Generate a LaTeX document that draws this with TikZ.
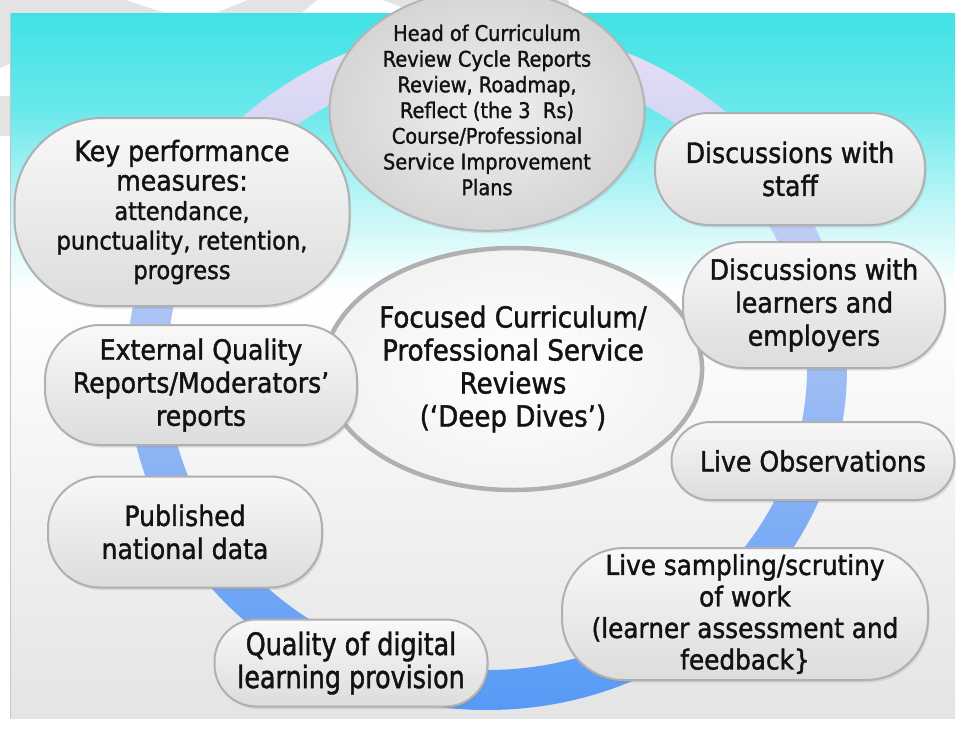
\documentclass[tikz,border=0pt]{standalone}
\usepackage{fontspec}
\setmainfont{DejaVu Sans}[FakeStretch=0.9, FakeBold=1.4]
\newfontfamily\narrowsans{DejaVu Sans}[FakeStretch=0.82, FakeBold=1.4]
\usetikzlibrary{shapes.geometric,shadows}

\definecolor{slidecyan}{RGB}{64,226,230}
\definecolor{ringtop}{RGB}{234,224,244}
\definecolor{ringmid}{RGB}{146,190,242}
\definecolor{ringbot}{RGB}{86,154,246}
\definecolor{inkblack}{RGB}{18,18,18}

\begin{document}
\begin{tikzpicture}[
            x=1pt, y=-1pt,
            bubble/.style={
                rectangle, rounded corners=#1, draw=gray!62, line width=2pt,
                top color=gray!5, bottom color=gray!27, text=inkblack,
                align=center, inner sep=0pt,
                drop shadow={shadow xshift=1.5pt, shadow yshift=-2.5pt, opacity=0.2}
            },
            bubble/.default=50pt,
            txt/.style={font=\fontsize{28}{33}\selectfont}
        ]
            \useasboundingbox (0,0) rectangle (962,729);
            % faint marks in the margin
            \fill[gray!22] (0,0) -- (126,0) -- (165,13) -- (10,13) -- (10,64) -- (0,68) -- cycle;
            \fill[gray!22] (0,96) rectangle (10,136);
            \fill[gray!22] (248,0) -- (317,0) -- (302,13) -- (215,13) -- cycle;
            \fill[gray!22] (382,0) -- (458,0) -- (492,13) -- (418,13) -- cycle;
            \fill[gray!22] (527,0) -- (568,0) to[out=-60,in=60] (566,13) -- (548,13) -- cycle;

            % slide background
            \shade[top color=slidecyan, bottom color=slidecyan!78!white] (10,13) rectangle (955,111);
            \shade[top color=slidecyan!78!white, bottom color=slidecyan!35!white] (10,110) rectangle (955,201);
            \shade[top color=slidecyan!35!white, bottom color=white] (10,200) rectangle (955,291);
            \shade[top color=white, bottom color=gray!21] (10,290) rectangle (955,718);
            \draw[gray!45, line width=0.8pt] (10,13) -- (10,718);

            % ring behind the bubbles
            \coordinate (hub) at (487,368);
            \shade[top color=ringtop, middle color=ringmid, bottom color=ringbot, even odd rule]
                (hub) ellipse [x radius=360pt, y radius=342pt]
                (hub) ellipse [x radius=320pt, y radius=302pt];

            \node[ellipse, draw=gray!58, line width=2pt, inner color=gray!12, outer color=gray!33,
                  minimum width=315pt, minimum height=190pt, inner sep=0pt, align=center,
                  text=inkblack, font=\fontsize{21.5}{25.7}\selectfont,
                  drop shadow={shadow xshift=1.5pt, shadow yshift=-2.5pt, opacity=0.2}] (head) at (487,110)
                {Head of Curriculum\\Review Cycle Reports\\Review, Roadmap,\\Reflect (the 3\ \ Rs)\\Course/Professional\\Service Improvement\\Plans};

            \node[ellipse, draw=gray!62, line width=4.5pt, inner color=white, outer color=gray!10,
                  minimum width=302pt, minimum height=242pt, inner sep=0pt, align=center,
                  text=inkblack, font=\fontsize{29}{33}\selectfont] (deep) at (513,369)
                {Focused Curriculum/\\Professional Service\\Reviews\\(‘Deep Dives’)};

            \node[bubble=88pt, minimum width=335pt, minimum height=188pt,
                  font=\fontsize{25}{29.5}\selectfont] (kpm) at (182,212)
                {{\fontsize{28}{33}\selectfont Key performance}\\{\fontsize{28}{33}\selectfont measures:}\\attendance,\\punctuality, retention,\\progress};
            \node[bubble=55pt, txt, minimum width=312pt, minimum height=120pt] (extq) at (201,385)
                {External Quality\\Reports/Moderators’\\reports};
            \node[bubble=52pt, txt, minimum width=274pt, minimum height=111pt] (natdata) at (185,532)
                {Published\\national data};
            \node[bubble=42pt, minimum width=273pt, minimum height=87pt,
                  font=\narrowsans\fontsize{31}{33}\selectfont] (digital) at (351,663)
                {Quality of digital\\learning provision};
            \node[bubble=62pt, minimum width=366pt, minimum height=132pt,
                  font=\fontsize{27.5}{31.5}\selectfont] (sampling) at (745,614)
                {Live sampling/scrutiny\\of work\\(learner assessment and\\feedback\}};
            \node[bubble=39pt, txt, minimum width=283pt, minimum height=78pt] (obs) at (813,461)
                {Live Observations};
            \node[bubble=60pt, txt, minimum width=262pt, minimum height=126pt] (learners) at (814,305)
                {Discussions with\\learners and\\employers};
            \node[bubble=54pt, txt, minimum width=270pt, minimum height=112pt] (staff) at (790,169)
                {Discussions with\\staff};
        \end{tikzpicture}
\end{document}
